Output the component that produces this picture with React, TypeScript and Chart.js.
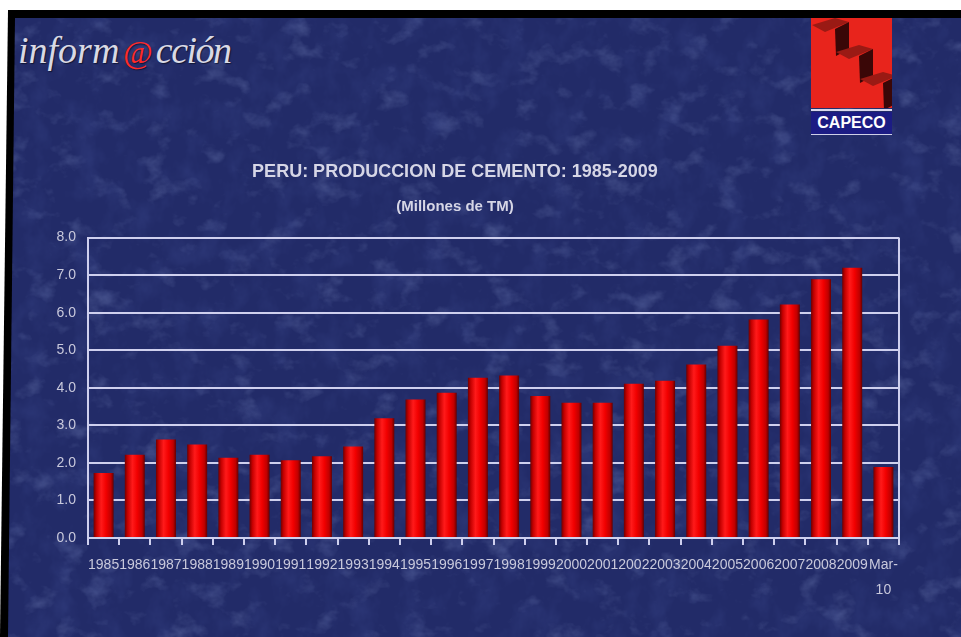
import React, { useEffect, useRef } from 'react';
import { Chart, registerables } from 'chart.js';

Chart.register(...registerables);

// ---- data ----
const categories: (string | string[])[] = [
  '1985', '1986', '1987', '1988', '1989', '1990', '1991', '1992', '1993',
  '1994', '1995', '1996', '1997', '1998', '1999', '2000', '2001', '2002',
  '2003', '2004', '2005', '2006', '2007', '2008', '2009', ['Mar-', '10'],
];
const production = [
  1.73, 2.22, 2.62, 2.49, 2.14, 2.22, 2.07, 2.18, 2.44,
  3.19, 3.69, 3.87, 4.27, 4.33, 3.78, 3.60, 3.60, 4.11,
  4.19, 4.62, 5.12, 5.82, 6.22, 6.89, 7.20, 1.89,
];
const yMin = 0;
const yMax = 8;
const yStep = 1;
const titleText = 'PERU: PRODUCCION DE CEMENTO: 1985-2009';
const subtitleText = '(Millones de TM)';

// ---- styles ----
const GRID = '#cfd0ee';
const TICK_TEXT = '#c9c9dc';
const TITLE_TEXT = '#d6d6e6';
const SANS = '"Liberation Sans", Arial, sans-serif';

const barShade = {
  id: 'barShade',
  beforeDatasetsDraw(chart: any) {
    const ctx = chart.ctx as CanvasRenderingContext2D;
    chart.getDatasetMeta(0).data.forEach((el: any) => {
      const { x, width } = el.getProps(['x', 'width'], true);
      const left = x - width / 2;
      const g = ctx.createLinearGradient(left, 0, left + width, 0);
      g.addColorStop(0, '#700000');
      g.addColorStop(0.14, '#c40000');
      g.addColorStop(0.38, '#ff1a1a');
      g.addColorStop(0.62, '#f20000');
      g.addColorStop(0.86, '#c00000');
      g.addColorStop(1, '#650000');
      el.options = { ...el.options, backgroundColor: g };
    });
  },
};

export default function App() {
  const ref = useRef<HTMLCanvasElement>(null);

  useEffect(() => {
    const chart = new Chart(ref.current as HTMLCanvasElement, {
      type: 'bar',
      data: {
        labels: categories as any,
        datasets: [
          {
            data: production,
            backgroundColor: '#f00000',
            borderWidth: 0,
            barPercentage: 0.64,
            categoryPercentage: 1,
          },
        ],
      },
      options: {
        responsive: false,
        animation: false,
        layout: { padding: { left: 11, right: 62, top: 161, bottom: 0 } },
        plugins: {
          legend: { display: false },
          tooltip: { enabled: false },
          title: {
            display: true,
            text: titleText,
            color: TITLE_TEXT,
            font: { family: SANS, size: 18, weight: 'bold' },
            padding: { top: 0, bottom: 15 },
          },
          subtitle: {
            display: true,
            text: subtitleText,
            color: TITLE_TEXT,
            font: { family: SANS, size: 15, weight: 'bold' },
            padding: { top: 0, bottom: 22 },
          },
        },
        scales: {
          x: {
            offset: true,
            grid: {
              offset: true,
              color: (c: any) => (c.type === 'scale' ? GRID : 'rgba(0,0,0,0)'),
              lineWidth: 2,
              tickColor: GRID,
              tickLength: 7,
              drawOnChartArea: true,
            },
            border: { color: GRID, width: 2 },
            ticks: {
              color: TICK_TEXT,
              font: { family: SANS, size: 14, lineHeight: 1.79 },
              padding: 8,
              maxRotation: 0,
              minRotation: 0,
              autoSkip: false,
            },
            afterFit: (s: any) => {
              s.height = 99;
            },
          },
          y: {
            min: yMin,
            max: yMax,
            ticks: {
              stepSize: yStep,
              callback: (v: any) => Number(v).toFixed(1),
              color: TICK_TEXT,
              font: { family: SANS, size: 14 },
              padding: 12,
            },
            grid: { color: GRID, lineWidth: 2, drawTicks: false },
            border: { color: GRID, width: 2 },
            afterFit: (s: any) => {
              s.width = 77;
            },
          },
        },
      },
      plugins: [barShade],
    });
    return () => chart.destroy();
  }, []);

  const blueBg = '#222b68';
  const blueClip = 'polygon(15px 18px, 961px 18px, 961px 637px, 8px 637px)';

  const steps = [0, 1, 2];

  return (
    <div
      style={{
        position: 'fixed',
        left: 0,
        top: 0,
        width: 961,
        height: 637,
        background: '#ffffff',
        overflow: 'hidden',
      }}
    >
      <div
        style={{
          position: 'absolute',
          inset: 0,
          background: '#000',
          clipPath: 'polygon(8px 10px, 961px 10px, 961px 637px, 0px 637px)',
        }}
      />
      <div style={{ position: 'absolute', inset: 0, background: blueBg, clipPath: blueClip }} />
      {/* mottled texture */}
      <svg
        width={961}
        height={637}
        style={{ position: 'absolute', left: 0, top: 0, clipPath: blueClip }}
      >
        <defs>
          <filter id="texLight" x="0" y="0" width="100%" height="100%">
            <feTurbulence type="fractalNoise" baseFrequency="0.035 0.045" numOctaves={4} seed={7} />
            <feColorMatrix
              type="matrix"
              values="0 0 0 0 0.33  0 0 0 0 0.42  0 0 0 0 0.75  0.75 0 0 0 -0.42"
            />
          </filter>
          <filter id="texDark" x="0" y="0" width="100%" height="100%">
            <feTurbulence type="fractalNoise" baseFrequency="0.04 0.03" numOctaves={4} seed={19} />
            <feColorMatrix
              type="matrix"
              values="0 0 0 0 0.04  0 0 0 0 0.06  0 0 0 0 0.25  0 0.9 0 0 -0.42"
            />
          </filter>
        </defs>
        <rect x={0} y={0} width={961} height={637} filter="url(#texLight)" />
        <rect x={0} y={0} width={961} height={637} filter="url(#texDark)" />
      </svg>
      {/* informacción logo */}
      <div
        style={{
          position: 'absolute',
          left: 18,
          top: 31,
          fontFamily: '"Liberation Serif", "Times New Roman", serif',
          fontStyle: 'italic',
          fontSize: 38,
          lineHeight: 1,
          color: '#d9d9e4',
          whiteSpace: 'nowrap',
          textShadow: '1px 1px 1px rgba(0,0,0,0.5)',
        }}
      >
        <span>inform</span>
        <span style={{ color: '#ff2a2a', fontStyle: 'normal', fontSize: 32, margin: '0 3px 0 4px' }}>@</span>
        <span style={{ letterSpacing: -1.5 }}>cción</span>
      </div>
      {/* CAPECO logo */}
      <div style={{ position: 'absolute', left: 811, top: 18, width: 81 }}>
        <svg width={81} height={90} viewBox="0 0 81 90" style={{ display: 'block' }}>
          <rect x={0} y={0} width={81} height={90} fill="#e8241c" />
          {steps.map((n) => {
            const dx = 24 * n;
            const dy = 27 * n;
            return (
              <g key={n}>
                <polygon
                  points={`${1 + dx},${7 + dy} ${24 + dx},${0 + dy} ${38 + dx},${4 + dy} ${14 + dx},${14 + dy}`}
                  fill="#9a1a14"
                />
                <polygon
                  points={`${24 + dx},${11 + dy} ${38 + dx},${4 + dy} ${38 + dx},${31 + dy} ${25 + dx},${38 + dy}`}
                  fill="#3a0707"
                />
              </g>
            );
          })}
        </svg>
        <div style={{ height: 2, background: '#d8d8ec', marginTop: 1 }} />
        <div
          style={{
            marginTop: 1,
            height: 22,
            background: '#1c1c84',
            borderBottom: '1px solid #cfd0e8',
            color: '#ffffff',
            fontFamily: SANS,
            fontWeight: 'bold',
            fontSize: 16,
            lineHeight: '22px',
            textAlign: 'center',
          }}
        >
          CAPECO
        </div>
      </div>
      <canvas
        ref={ref}
        width={961}
        height={637}
        style={{ position: 'absolute', left: 0, top: 0, width: 961, height: 637 }}
      />
    </div>
  );
}
